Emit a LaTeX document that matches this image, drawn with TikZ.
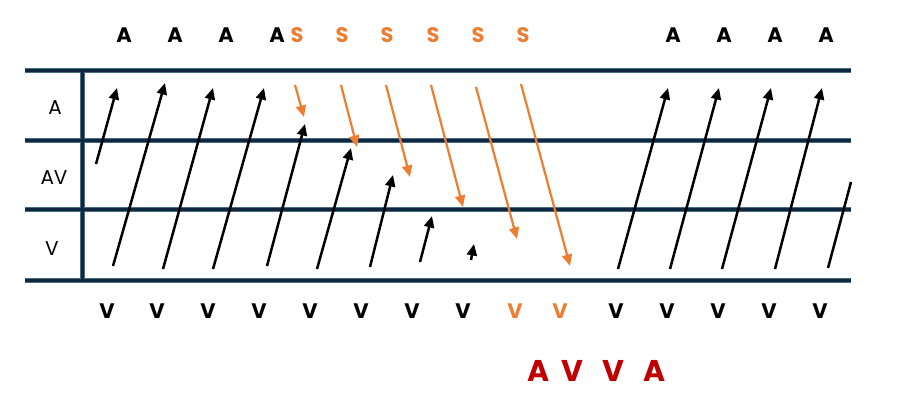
\documentclass[tikz,border=0pt]{standalone}
\usepackage{fontspec}
\setmainfont{Poppins}
\usetikzlibrary{arrows.meta}
\definecolor{navy}{HTML}{0E2841}
\definecolor{navyedge}{HTML}{4A6B80}
\definecolor{orng}{HTML}{ED7D31}
\definecolor{dred}{HTML}{C00000}
\tikzset{
  gridline/.style={line width=5pt,draw=navyedge},
  gridcore/.style={line width=3pt,draw=navy},
  blk/.style={line width=2.5pt,draw=black,-{Triangle[length=11.5pt,width=10pt]}},
  blkline/.style={line width=2.5pt,draw=black},
  org/.style={line width=2.2pt,draw=orng,-{Triangle[length=11.5pt,width=10pt]}},
  toplab/.style={anchor=base,inner sep=0pt,font=\fontsize{21}{21}\selectfont\bfseries},
  rowlab/.style={anchor=base,inner sep=0pt,font=\fontsize{20}{20}\selectfont},
  redlab/.style={anchor=base,inner sep=0pt,text=dred,font=\fontsize{30}{30}\selectfont\bfseries},
}
\begin{document}
\begin{tikzpicture}[x=1pt,y=-1pt]
\useasboundingbox (0,0) rectangle (910,403);
% grid lines
\foreach \yy/\nm in {71/l1,141/l2,210/l3,281/l4}{
  \coordinate (\nm a) at (25,\yy);
  \coordinate (\nm b) at (851,\yy);
  \draw[gridline] (\nm a) -- (\nm b);
}
\coordinate (vt) at (82,71);
\coordinate (vb) at (82,281);
\draw[gridline] (vt) -- (vb);
\foreach \nm in {l1,l2,l3,l4}{ \draw[gridcore] (\nm a) -- (\nm b); }
\draw[gridcore] (vt) -- (vb);
% row labels
\node[rowlab] (rA) at (55,115) {A};
\node[rowlab] (rAV) at (54,185) {AV};
\node[rowlab] (rV) at (52,256) {V};
% top labels
\foreach \xx/\i in {124/1,175/2,226/3,277/4,673/5,724/6,775/7,826/8}{
  \node[toplab] (ta\i) at (\xx,43) {A};
}
\foreach \xx/\i in {297/1,342/2,387/3,433/4,478/5,523/6}{
  \node[toplab,text=orng] (ts\i) at (\xx,43) {S};
}
% bottom labels
\foreach \xx/\i in {107/1,157/2,208/3,259/4,310/5,361/6,412/7,463/8,616/9,667/10,718/11,769/12,820/13}{
  \node[toplab] (bv\i) at (\xx,318) {V};
}
\foreach \xx/\i in {515/1,560/2}{
  \node[toplab,text=orng] (bo\i) at (\xx,318) {V};
}
% red labels
\node[redlab] (r1) at (539,381) {A};
\node[redlab] (r2) at (572,381) {V};
\node[redlab] (r3) at (613,381) {V};
\node[redlab] (r4) at (655,381) {A};
% black arrows
\foreach \i/\ax/\ay/\bx/\by in {
  1/96/164/117/88, 2/113/266/165/83, 3/163/269/213/88, 4/213/269/264/88,
  5/267/266/305/124, 6/317/269/351/148, 7/370/267/393/175, 8/420/262/432/216,
  9/471/260/474/244,
  10/618/269/668/88, 11/670/269/719/88, 12/722/269/771/88, 13/775/269/822/88}{
  \coordinate (bt\i) at (\ax,\ay);
  \coordinate (bh\i) at (\bx,\by);
  \draw[blk] (bt\i) -- (bh\i);
}
\coordinate (bt14) at (828,268);
\coordinate (bh14) at (851,182);
\draw[blkline] (bt14) -- (bh14);
% orange arrows
\foreach \i/\ax/\ay/\bx/\by in {
  1/295/85/304/117, 2/341/85/357/147, 3/386/85/410/177,
  4/431/85/463/207, 5/476/87/517/239, 6/521/84/570/266}{
  \coordinate (ot\i) at (\ax,\ay);
  \coordinate (oh\i) at (\bx,\by);
  \draw[org] (ot\i) -- (oh\i);
}
\end{tikzpicture}
\end{document}
